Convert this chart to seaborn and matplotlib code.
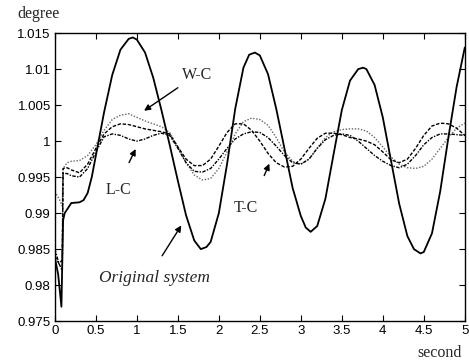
import numpy as np
import pandas as pd
import matplotlib
matplotlib.use('Agg')
import matplotlib.pyplot as plt
import seaborn as sns

# valores
t_orig = [0, 0.04, 0.08, 0.1, 0.12, 0.2, 0.3, 0.35, 0.4, 0.45, 0.5, 0.6, 0.7, 0.8, 0.9, 0.95,
          1.0, 1.1, 1.2, 1.3, 1.4, 1.5, 1.6, 1.7, 1.78, 1.85, 1.9, 2.0, 2.1, 2.2, 2.3, 2.37,
          2.44, 2.5, 2.6, 2.7, 2.8, 2.9, 3.0, 3.06, 3.12, 3.2, 3.3, 3.4, 3.5, 3.6, 3.7, 3.76,
          3.8, 3.9, 4.0, 4.1, 4.2, 4.3, 4.38, 4.46, 4.5, 4.6, 4.7, 4.8, 4.9, 5.0]
original = [0.9838, 0.9815, 0.9770, 0.9890, 0.9900, 0.9914, 0.9915, 0.9918, 0.9928, 0.9950,
            0.9980, 1.0040, 1.0092, 1.0127, 1.0142, 1.0144, 1.0141, 1.0123, 1.0088, 1.0043,
            0.9995, 0.9945, 0.9897, 0.9862, 0.9850, 0.9853, 0.9860, 0.9900, 0.9968, 1.0045,
            1.0102, 1.0120, 1.0123, 1.0119, 1.0093, 1.0045, 0.9990, 0.9935, 0.9896, 0.9880,
            0.9874, 0.9882, 0.9920, 0.9982, 1.0043, 1.0084, 1.0100, 1.0102, 1.0100, 1.0078,
            1.0033, 0.9973, 0.9913, 0.9868, 0.9850, 0.9844, 0.9846, 0.9872, 0.9930, 1.0005,
            1.0075, 1.0130]

t_ctrl = [0, 0.05, 0.09, 0.1, 0.15, 0.2, 0.3, 0.4, 0.5, 0.6, 0.7, 0.8, 0.9, 1.0, 1.1, 1.2,
          1.3, 1.4, 1.5, 1.6, 1.7, 1.8, 1.9, 2.0, 2.1, 2.2, 2.3, 2.4, 2.5, 2.6, 2.7, 2.8,
          2.9, 3.0, 3.1, 3.2, 3.3, 3.4, 3.5, 3.6, 3.7, 3.8, 3.9, 4.0, 4.1, 4.2, 4.3, 4.4,
          4.5, 4.6, 4.7, 4.8, 4.9, 5.0]
w_c = [0.9930, 0.9920, 0.9910, 0.9962, 0.9970, 0.9972, 0.9973,
       0.9980, 0.9995, 1.0015, 1.0030, 1.0036, 1.0038, 1.0033, 1.0028, 1.0024, 1.0020, 1.0012,
       0.9992, 0.9970, 0.9953, 0.9946, 0.9948, 0.9962, 0.9985, 1.0010, 1.0027, 1.0032,
       1.0030, 1.0022, 1.0005, 0.9985, 0.9972, 0.9968, 0.9975, 0.9990, 1.0005, 1.0013,
       1.0016, 1.0017, 1.0017, 1.0014, 1.0005, 0.9992, 0.9978, 0.9968, 0.9963, 0.9962,
       0.9965, 0.9975, 0.9990, 1.0005, 1.0018, 1.0025]
t_c = [0.9840, 0.9830, 0.9835, 0.9962, 0.9963, 0.9960, 0.9956,
       0.9968, 0.9990, 1.0010, 1.0020, 1.0024, 1.0023, 1.0020, 1.0017, 1.0015, 1.0013, 1.0010,
       0.9992, 0.9975, 0.9966, 0.9966, 0.9975, 0.9993, 1.0012, 1.0024, 1.0024, 1.0015,
       1.0000, 0.9983, 0.9970, 0.9964, 0.9965, 0.9975, 0.9990, 1.0004, 1.0011, 1.0011,
       1.0009, 1.0005, 1.0003, 1.0000, 0.9995, 0.9985, 0.9974, 0.9970, 0.9975, 0.9990,
       1.0008, 1.0021, 1.0025, 1.0024, 1.0018, 1.0008]
l_c = [0.9850, 0.9830, 0.9820, 0.9955, 0.9955, 0.9952, 0.9950,
       0.9962, 0.9985, 1.0006, 1.0010, 1.0008, 1.0003, 1.0000, 1.0003, 1.0008, 1.0011, 1.0008,
       0.9990, 0.9970, 0.9958, 0.9957, 0.9962, 0.9975, 0.9990, 1.0003, 1.0010, 1.0013,
       1.0012, 1.0005, 0.9993, 0.9980, 0.9970, 0.9968, 0.9975, 0.9990, 1.0002, 1.0008,
       1.0010, 1.0008, 1.0000, 0.9990, 0.9980, 0.9972, 0.9966, 0.9963, 0.9968, 0.9980,
       0.9995, 1.0005, 1.0010, 1.0010, 1.0009, 1.0008]

xticks = [0, 0.5, 1, 1.5, 2, 2.5, 3, 3.5, 4, 4.5, 5]
xlabels = ['0', '0.5', '1', '1.5', '2', '2.5', '3', '3.5', '4', '4.5', '5']
yticks = [0.975, 0.98, 0.985, 0.99, 0.995, 1.0, 1.005, 1.01, 1.015]
ylabels = ['0.975', '0.98', '0.985', '0.99', '0.995', '1', '1.005', '1.01', '1.015']

sns.set_style('ticks')
plt.rcParams['font.family'] = ['Liberation Sans', 'DejaVu Sans']
serif = ['Liberation Serif', 'DejaVu Serif']

fig = plt.figure(figsize=(4.69, 3.6), dpi=100)
ax = fig.add_axes([0.117, 0.108, 0.874, 0.800])

sns.lineplot(x=t_ctrl, y=w_c, ax=ax, color='#666666', lw=1.0,
             linestyle=(0, (1, 1.2)), estimator=None, sort=False)
sns.lineplot(x=t_ctrl, y=t_c, ax=ax, color='black', lw=1.0,
             linestyle=(0, (2.5, 1.2)), estimator=None, sort=False)
sns.lineplot(x=t_ctrl, y=l_c, ax=ax, color='black', lw=1.0,
             linestyle=(0, (2.5, 1, 1, 1)), estimator=None, sort=False)
sns.lineplot(x=t_orig, y=original, ax=ax, color='black', lw=1.3,
             estimator=None, sort=False)

ax.set_xlim(0, 5)
ax.set_ylim(0.975, 1.015)
ax.set_xticks(xticks)
ax.set_xticklabels(xlabels)
ax.set_yticks(yticks)
ax.set_yticklabels(ylabels)
ax.tick_params(direction='in', top=True, right=True, length=4, width=0.8,
               labelsize=9.5, colors='black', pad=3)
for s in ax.spines.values():
    s.set_visible(True)
    s.set_color('black')
    s.set_linewidth(1.0)

# anotaciones
flecha = dict(arrowstyle='-|>', color='black', lw=1.0, mutation_scale=9)
ax.annotate('W-C', xy=(1.06, 1.0040), xytext=(1.73, 1.0092), ha='center', va='center',
            fontsize=11.5, family=serif, arrowprops=flecha)
ax.annotate('', xy=(1.0, 0.99925), xytext=(0.89, 0.99667), arrowprops=flecha)
ax.text(0.77, 0.99319, 'L-C', ha='center', va='center', fontsize=11.5, family=serif)
ax.annotate('', xy=(2.63, 0.99722), xytext=(2.54, 0.99486), arrowprops=flecha)
ax.text(2.33, 0.99069, 'T-C', ha='center', va='center', fontsize=11.5, family=serif)
ax.annotate('', xy=(1.56, 0.98861), xytext=(1.29, 0.98375), arrowprops=flecha)
ax.text(1.22, 0.98097, 'Original system', ha='center', va='center', fontsize=12.5,
        family=serif, style='italic')

fig.text(0.083, 0.961, 'degree', ha='center', va='center', fontsize=11.5, family=serif)
fig.text(0.938, 0.019, 'second', ha='center', va='center', fontsize=11.5, family=serif)

fig.savefig('out.png', dpi=100)
